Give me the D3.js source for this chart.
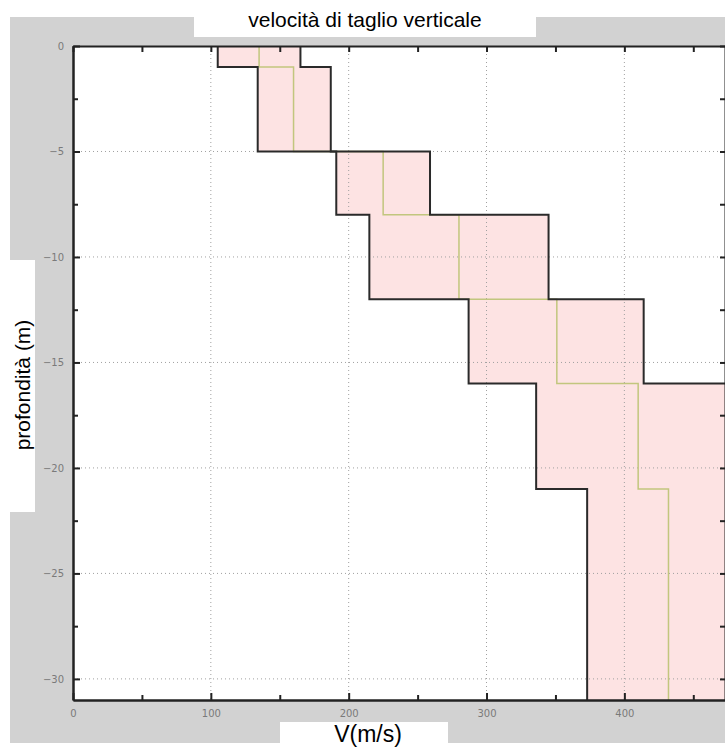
<!DOCTYPE html>
<html lang="it">
<head>
    <meta charset="UTF-8">
    <title>velocità di taglio verticale</title>
    <script src="https://d3js.org/d3.v7.min.js"></script>
    <style>
        body { margin: 0; background: #fff; font-family: Arial, "Liberation Sans", sans-serif; }
        svg { display: block; }
        .tick text { fill: #7a7a7a; font-size: 10px; font-family: "DejaVu Sans", Arial, sans-serif; }
        .tick line { stroke: #222; stroke-width: 2; }
        .domain { stroke: #222; stroke-width: 2; }
    </style>
</head>
<body>
    <svg width="725" height="749"></svg>
    <script>
        // layers (depth in m) and shear wave velocity Vs (m/s)
        const depthTop    = [0, 1, 5, 8, 12, 16, 21];
        const depthBottom = [1, 5, 8, 12, 16, 21, 31];
        const vsMin  = [105, 134, 191, 215, 287, 336, 373];
        const vsMean = [135, 160, 225, 280, 351, 410, 432];
        const vsMax  = [165, 187, 259, 345, 414, 484, 491];

        const xTicks = [0, 100, 200, 300, 400];
        const xMinor = [50, 150, 250, 350, 450];
        const yTicks = [0, -5, -10, -15, -20, -25, -30];
        const yMinor = [-2.5, -7.5, -12.5, -17.5, -22.5, -27.5];

        const svg = d3.select("svg");
        const pLeft = 73, pRight = 725, pTop = 46, pBottom = 700;

        const x = d3.scaleLinear().domain([0, 473]).range([pLeft, pRight]);
        const y = d3.scaleLinear().domain([0, -31]).range([pTop, pBottom]);

        // grey frame around the plot
        svg.append("rect").attr("x", 10).attr("y", 17).attr("width", 720).attr("height", 726).attr("fill", "#d2d2d2");
        svg.append("rect").attr("x", pLeft).attr("y", pTop).attr("width", pRight - pLeft).attr("height", pBottom - pTop).attr("fill", "#fff");

        svg.append("clipPath").attr("id", "plot")
            .append("rect").attr("x", pLeft).attr("y", pTop).attr("width", pRight - pLeft).attr("height", pBottom - pTop);
        const plot = svg.append("g").attr("clip-path", "url(#plot)");

        // step points for one series
        const steps = vals => vals.flatMap((v, i) => [[v, -depthTop[i]], [v, -depthBottom[i]]]);
        const band = depthTop.flatMap((d, i) => [
            { lo: vsMin[i], hi: vsMax[i], d: -d },
            { lo: vsMin[i], hi: vsMax[i], d: -depthBottom[i] }
        ]);

        // band min-max
        plot.append("path")
            .datum(band)
            .attr("fill", "#fde3e3")
            .attr("d", d3.area().y(p => y(p.d)).x0(p => x(p.lo)).x1(p => x(p.hi)));

        // dotted grid
        plot.selectAll(".vgrid").data(xTicks.slice(1)).enter().append("line")
            .attr("x1", d => x(d)).attr("x2", d => x(d)).attr("y1", pTop).attr("y2", pBottom)
            .attr("stroke", "#a0a0a0").attr("stroke-width", 1).attr("stroke-dasharray", "1,3");
        plot.selectAll(".hgrid").data(yTicks.slice(1)).enter().append("line")
            .attr("y1", d => y(d)).attr("y2", d => y(d)).attr("x1", pLeft).attr("x2", pRight)
            .attr("stroke", "#a0a0a0").attr("stroke-width", 1).attr("stroke-dasharray", "1,3");

        const line = d3.line().x(p => x(p[0])).y(p => y(p[1]));

        plot.append("path").datum(steps(vsMean))
            .attr("fill", "none").attr("stroke", "#c2c67e").attr("stroke-width", 1.5).attr("d", line);
        [vsMin, vsMax].forEach(vals => {
            plot.append("path").datum(steps(vals))
                .attr("fill", "none").attr("stroke", "#2a2a2a").attr("stroke-width", 2).attr("d", line);
        });

        // axes (ticks pointing inward)
        svg.append("g").attr("transform", `translate(0,${pBottom})`)
            .call(d3.axisBottom(x).tickValues(xTicks).tickSizeInner(-7).tickSizeOuter(0).tickPadding(10).tickFormat(d3.format("d")));
        svg.append("g").attr("transform", `translate(0,${pBottom})`)
            .call(d3.axisBottom(x).tickValues(xMinor).tickSizeInner(-5).tickSizeOuter(0).tickFormat(""));
        svg.append("g").attr("transform", `translate(0,${pTop})`)
            .call(d3.axisTop(x).tickValues(xTicks.concat(xMinor)).tickSizeInner(-6).tickSizeOuter(0).tickFormat(""));

        svg.append("g").attr("transform", `translate(${pLeft},0)`)
            .call(d3.axisLeft(y).tickValues(yTicks).tickSizeInner(-7).tickSizeOuter(0).tickPadding(9).tickFormat(d3.format("d")));
        svg.append("g").attr("transform", `translate(${pLeft},0)`)
            .call(d3.axisLeft(y).tickValues(yMinor).tickSizeInner(-5).tickSizeOuter(0).tickFormat(""));
        svg.append("g").attr("transform", `translate(${pRight},0)`)
            .call(d3.axisRight(y).tickValues(yTicks.concat(yMinor)).tickSizeInner(-5).tickSizeOuter(0).tickFormat(""));

        // title and axis labels in white boxes
        svg.append("rect").attr("x", 194).attr("y", 0).attr("width", 342).attr("height", 37).attr("fill", "#fff");
        svg.append("text").attr("x", 365).attr("y", 27).attr("text-anchor", "middle")
            .attr("font-size", 21).attr("fill", "#000").text("velocità di taglio verticale");

        svg.append("rect").attr("x", 8).attr("y", 260).attr("width", 27).attr("height", 252).attr("fill", "#fff");
        svg.append("text").attr("transform", "translate(30,385) rotate(-90)").attr("text-anchor", "middle")
            .attr("font-size", 21).attr("fill", "#000").text("profondità (m)");

        svg.append("rect").attr("x", 280).attr("y", 722).attr("width", 168).attr("height", 23).attr("fill", "#fff");
        svg.append("text").attr("x", 368).attr("y", 742).attr("text-anchor", "middle")
            .attr("font-size", 23).attr("fill", "#000").text("V(m/s)");
    </script>
</body>
</html>
